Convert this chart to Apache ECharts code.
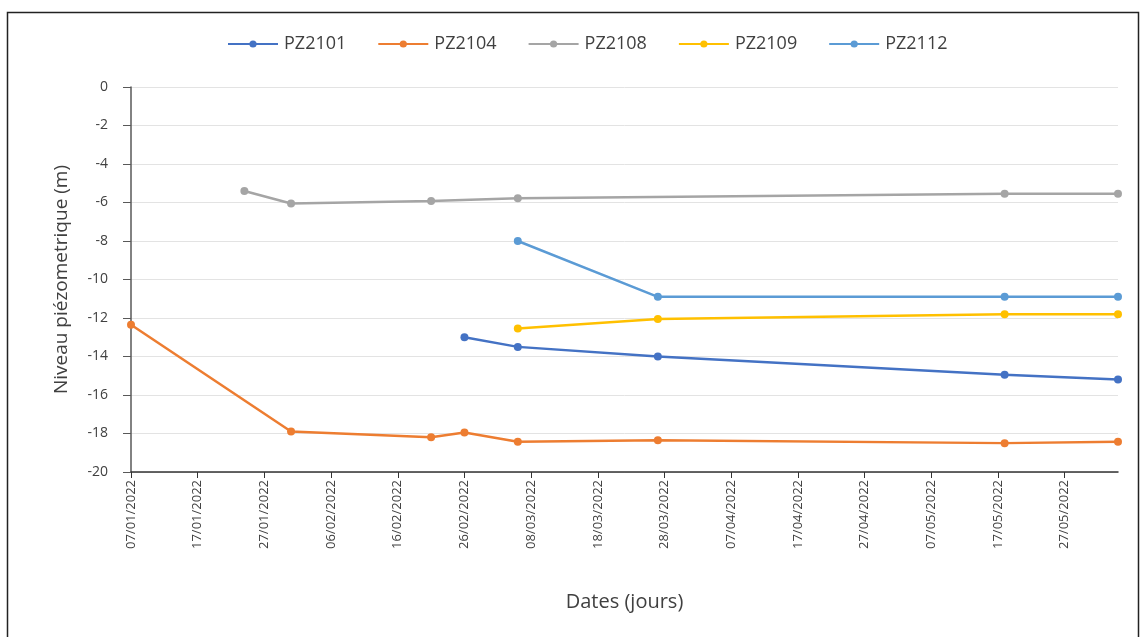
<!DOCTYPE html>
<html><head><meta charset="utf-8">
<script src="https://cdn.jsdelivr.net/npm/echarts@6/dist/echarts.min.js"></script>
<style>html,body{margin:0;padding:0;background:#fff}#c{width:1142px;height:637px}</style>
</head><body><div id="c"></div>
<script>
// Data (dates as dd/mm/yyyy, levels in metres)
const seriesNames = ['PZ2101','PZ2104','PZ2108','PZ2109','PZ2112'];
const pz2101Dates = ['26/02/2022','06/03/2022','27/03/2022','18/05/2022','04/06/2022'];
const pz2101Values = [-13.0,-13.5,-14.0,-14.95,-15.2];
const pz2104Dates = ['07/01/2022','31/01/2022','21/02/2022','26/02/2022','06/03/2022','27/03/2022','18/05/2022','04/06/2022'];
const pz2104Values = [-12.35,-17.9,-18.2,-17.95,-18.43,-18.35,-18.5,-18.43];
const pz2108Dates = ['24/01/2022','31/01/2022','21/02/2022','06/03/2022','18/05/2022','04/06/2022'];
const pz2108Values = [-5.4,-6.05,-5.92,-5.78,-5.55,-5.55];
const pz2109Dates = ['06/03/2022','27/03/2022','18/05/2022','04/06/2022'];
const pz2109Values = [-12.55,-12.05,-11.8,-11.8];
const pz2112Dates = ['06/03/2022','27/03/2022','18/05/2022','04/06/2022'];
const pz2112Values = [-8.0,-10.9,-10.9,-10.9];
const xStart = '07/01/2022';
const xEnd = '04/06/2022';
const tickStepDays = 10;
const colors = ['#4472C4','#ED7D31','#A5A5A5','#FFC000','#5B9BD5'];

const DAY = 86400000;
function parseD(s){const p=s.split('/');return Date.UTC(+p[2],+p[1]-1,+p[0]);}
const t0 = parseD(xStart);
function dayOf(s){return Math.round((parseD(s)-t0)/DAY);}
function fmt(v){const d=new Date(t0+v*DAY);const dd=String(d.getUTCDate()).padStart(2,'0');const mm=String(d.getUTCMonth()+1).padStart(2,'0');return dd+'/'+mm+'/'+d.getUTCFullYear();}
const xMax = dayOf(xEnd);
const tickVals=[];for(let v=0;v<=xMax;v+=tickStepDays)tickVals.push(v);

const allDates=[pz2101Dates,pz2104Dates,pz2108Dates,pz2109Dates,pz2112Dates];
const allVals=[pz2101Values,pz2104Values,pz2108Values,pz2109Values,pz2112Values];

const font='"Open Sans", "Noto Sans", sans-serif';
const chart=echarts.init(document.getElementById('c'),null,{renderer:'canvas'});
chart.setOption({
  animation:false,
  color:colors,
  textStyle:{fontFamily:font},
  graphic:[{type:'rect',left:5,top:10,shape:{width:1131,height:640},style:{fill:'none',stroke:'#222',lineWidth:1.5},silent:true,z:-1}],
  legend:{show:true,top:30,left:222,itemGap:31,itemWidth:50,itemHeight:9,
    textStyle:{fontSize:18,color:'#404040',fontFamily:font,padding:[0,0,0,1]}},
  grid:{left:131,right:24,top:87,bottom:165,containLabel:false},
  xAxis:{type:'value',min:0,max:xMax,interval:tickStepDays,
    name:'Dates (jours)',nameLocation:'middle',nameGap:120,
    nameTextStyle:{fontSize:20,color:'#404040',fontFamily:font},
    axisLine:{show:true,onZero:false,lineStyle:{color:'#333',width:1.5}},
    axisTick:{show:true,length:6,lineStyle:{color:'#333'},customValues:tickVals},
    axisLabel:{rotate:90,fontSize:13,color:'#404040',margin:8,customValues:tickVals,formatter:v=>fmt(v),fontFamily:font},
    splitLine:{show:false}},
  yAxis:{type:'value',min:-20,max:0,interval:2,
    name:'Niveau piézometrique (m)',nameLocation:'middle',nameGap:60,nameRotate:90,
    nameTextStyle:{fontSize:19,color:'#404040',fontFamily:font},
    axisLine:{show:true,lineStyle:{color:'#595959',width:1.5}},
    axisTick:{show:true,length:8,lineStyle:{color:'#595959'}},
    axisLabel:{fontSize:14,color:'#404040',margin:23,fontFamily:font},
    splitLine:{show:true,lineStyle:{color:'#e3e3e3',width:1}}},
  series:seriesNames.map((n,i)=>({
    name:n,type:'line',
    data:allDates[i].map((d,j)=>[dayOf(d),allVals[i][j]]),
    symbol:'circle',symbolSize:8,showSymbol:true,
    lineStyle:{width:2.5,color:colors[i]},itemStyle:{color:colors[i]},
  }))
});
</script></body></html>
